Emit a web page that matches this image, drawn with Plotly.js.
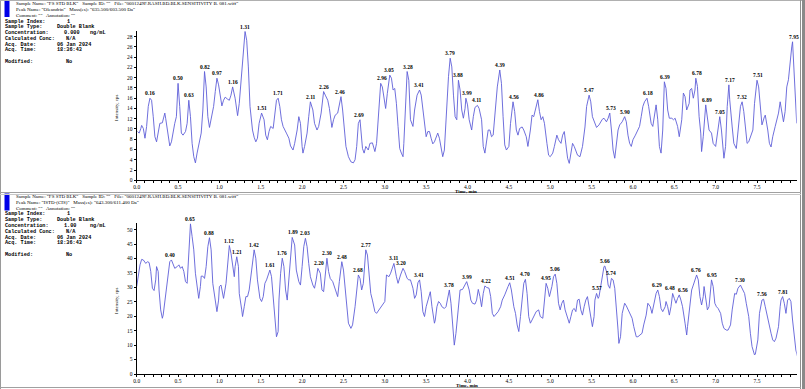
<!DOCTYPE html>
<html><head><meta charset="utf-8">
<script src="https://cdn.plot.ly/plotly-3.0.1.min.js"></script>
<style>html,body{margin:0;padding:0;background:#fff;}#chart{width:805px;height:389px;}</style>
</head><body><div id="chart"></div>
<script>
// ---------- DATA ----------
const topTime = [
0.01,0.03,0.05,0.06,0.08,0.10,0.12,0.14,0.16,0.18,
0.20,0.22,0.24,0.26,0.28,0.31,0.32,0.34,0.35,0.38,
0.40,0.42,0.44,0.46,0.48,0.50,0.52,0.54,0.56,0.59,
0.61,0.63,0.65,0.67,0.69,0.71,0.73,0.76,0.78,0.80,
0.82,0.84,0.86,0.88,0.90,0.93,0.95,0.97,0.99,1.02,
1.03,1.05,1.07,1.10,1.12,1.14,1.16,1.19,1.21,1.22,
1.24,1.26,1.28,1.30,1.31,1.33,1.35,1.37,1.40,1.42,
1.44,1.46,1.48,1.51,1.54,1.56,1.58,1.60,1.62,1.65,
1.67,1.69,1.71,1.73,1.75,1.77,1.81,1.84,1.86,1.89,
1.91,1.94,1.96,1.98,2.00,2.01,2.03,2.06,2.08,2.10,
2.13,2.15,2.18,2.20,2.23,2.26,2.28,2.31,2.33,2.35,
2.36,2.38,2.40,2.43,2.45,2.47,2.49,2.51,2.53,2.56,
2.59,2.62,2.64,2.66,2.68,2.70,2.71,2.73,2.75,2.77,
2.80,2.82,2.85,2.86,2.88,2.90,2.93,2.95,2.97,2.99,
3.01,3.03,3.06,3.08,3.10,3.12,3.14,3.16,3.18,3.20,
3.22,3.23,3.25,3.27,3.29,3.31,3.34,3.36,3.39,3.42,
3.44,3.46,3.48,3.50,3.52,3.54,3.56,3.58,3.60,3.62,
3.64,3.66,3.68,3.70,3.72,3.74,3.77,3.79,3.81,3.83,
3.85,3.87,3.89,3.91,3.93,3.95,3.97,3.98,4.00,4.02,
4.05,4.07,4.09,4.12,4.14,4.17,4.19,4.21,4.23,4.25,
4.27,4.29,4.31,4.33,4.36,4.39,4.41,4.43,4.45,4.47,
4.50,4.52,4.54,4.55,4.57,4.59,4.61,4.63,4.66,4.68,
4.71,4.73,4.76,4.78,4.80,4.83,4.85,4.87,4.89,4.91,
4.93,4.96,4.98,5.00,5.03,5.05,5.08,5.10,5.13,5.15,
5.17,5.19,5.21,5.23,5.25,5.27,5.29,5.31,5.33,5.36,
5.39,5.42,5.44,5.47,5.49,5.51,5.54,5.56,5.59,5.61,
5.63,5.65,5.68,5.70,5.72,5.74,5.76,5.78,5.80,5.82,
5.84,5.87,5.90,5.92,5.94,5.96,5.98,6.00,6.03,6.05,
6.08,6.10,6.12,6.14,6.17,6.19,6.22,6.24,6.26,6.28,
6.30,6.32,6.34,6.36,6.38,6.40,6.42,6.44,6.47,6.49,
6.51,6.54,6.56,6.59,6.61,6.63,6.65,6.68,6.69,6.71,
6.73,6.75,6.76,6.78,6.80,6.82,6.83,6.85,6.88,6.90,
6.92,6.95,6.97,7.00,7.02,7.05,7.07,7.09,7.10,7.12,
7.14,7.16,7.17,7.20,7.22,7.25,7.27,7.30,7.32,7.34,
7.36,7.38,7.40,7.42,7.45,7.47,7.50,7.52,7.54,7.56,
7.59,7.60,7.63,7.65,7.67,7.69,7.72,7.74,7.76,7.78,
7.80,7.82,7.84,7.86,7.88,7.90,7.92,7.93,7.95,7.97,
7.98];
const topIntensity = [
9.5,9.2,10.1,10.7,10.1,8.2,10.5,14.4,16.0,15.6,
12.4,8.5,7.5,9.8,11.1,11.2,11.8,13.1,12.1,8.5,
6.7,7.5,9.8,11.1,12.4,18.9,14.4,9.2,8.8,9.5,
11.1,15.6,12.4,7.2,4.6,3.4,5.3,7.5,9.2,13.7,
21.2,18.2,12.4,10.3,11.8,14.4,17.3,19.9,18.6,16.0,
14.5,15.6,16.2,15.8,15.6,16.6,18.2,16.0,13.1,12.6,
15.0,19.5,24.1,27.3,29.0,27.3,22.1,14.4,9.8,8.4,
7.5,8.2,11.1,13.1,11.8,8.8,7.9,9.5,10.5,10.1,
13.1,15.6,16.0,14.4,11.8,10.5,9.2,8.2,6.7,5.9,
7.2,9.8,12.4,11.1,6.6,5.3,6.6,9.2,12.4,15.3,
13.7,11.1,9.8,10.5,13.1,17.3,16.6,15.6,14.0,11.4,
10.3,11.8,12.7,13.1,14.7,16.3,13.7,9.2,6.6,4.6,
3.6,3.4,4.0,6.6,11.1,11.8,9.2,6.2,5.3,6.6,
5.9,7.2,7.3,6.6,5.6,7.2,13.7,18.9,18.2,15.6,
14.0,16.9,20.5,19.9,17.6,17.9,15.0,10.5,6.2,5.3,
4.6,7.2,15.0,21.2,19.5,11.8,10.5,13.7,16.6,17.6,
16.6,13.7,10.5,8.5,9.5,9.5,8.2,7.1,7.5,8.5,
9.2,8.2,5.9,4.6,5.9,11.8,20.2,23.8,22.1,16.6,
12.4,11.8,19.5,17.6,13.7,12.1,14.0,16.0,14.7,11.8,
9.8,12.4,14.2,14.6,14.0,11.8,6.6,5.3,7.2,9.8,
9.8,8.5,8.8,12.4,18.2,21.5,18.9,12.4,6.9,5.9,
6.6,11.1,14.4,15.3,13.4,9.8,8.8,10.1,10.4,9.8,
8.5,6.6,9.8,12.7,12.4,14.4,15.7,13.4,11.8,12.4,
11.1,7.2,4.9,4.6,5.3,6.6,8.8,7.9,7.2,8.8,
9.5,6.9,4.3,3.3,5.6,7.2,6.6,5.6,4.9,4.6,
6.6,10.4,14.4,16.6,15.3,12.4,11.1,10.3,10.8,11.4,
11.9,12.1,11.4,12.1,13.1,9.8,5.9,4.3,6.6,9.8,
10.8,11.4,12.4,11.4,8.8,7.2,6.6,7.9,8.8,9.5,
10.5,12.4,14.4,15.3,16.0,14.4,11.1,10.5,13.1,14.7,
11.8,6.6,5.3,9.8,19.2,17.9,13.7,12.1,12.1,11.8,
12.1,10.5,8.5,11.8,17.0,16.3,13.7,15.0,17.6,17.9,
16.0,17.6,19.9,18.3,12.4,9.2,5.6,8.5,14.7,12.4,
9.8,9.2,7.2,6.6,9.2,12.4,9.8,5.3,4.3,6.6,
14.4,18.6,15.7,10.4,7.2,6.2,9.2,14.4,15.3,13.4,
10.4,7.2,7.5,8.5,9.8,15.0,19.5,18.2,14.4,10.8,
12.4,12.7,9.8,7.2,6.5,8.5,10.5,11.8,13.1,15.3,
13.7,11.4,13.4,18.2,19.6,23.5,26.0,27.0,21.5,13.7,
11.1];
const topPeakLabels = ["0.16","0.50","0.63","0.82","0.97","1.16","1.31","1.51","1.71","2.11","2.26","2.46","2.69","2.96","3.05","3.28","3.41","3.79","3.88","3.99","4.11","4.39","4.56","4.86","5.47","5.73","5.90","6.18","6.39","6.78","6.89","7.05","7.17","7.32","7.51","7.95"];

const botTime = [
0.00,0.02,0.04,0.06,0.08,0.11,0.13,0.15,0.17,0.19,
0.21,0.23,0.24,0.26,0.27,0.29,0.31,0.32,0.34,0.36,
0.38,0.40,0.42,0.44,0.46,0.49,0.51,0.53,0.55,0.57,
0.59,0.61,0.63,0.64,0.65,0.67,0.69,0.71,0.74,0.75,
0.77,0.78,0.80,0.82,0.84,0.86,0.88,0.90,0.92,0.95,
0.97,0.99,1.00,1.02,1.04,1.05,1.08,1.10,1.12,1.14,
1.16,1.18,1.19,1.21,1.23,1.24,1.27,1.28,1.30,1.32,
1.34,1.36,1.39,1.41,1.42,1.44,1.46,1.49,1.51,1.53,
1.55,1.57,1.59,1.61,1.63,1.65,1.67,1.69,1.71,1.72,
1.74,1.76,1.78,1.80,1.82,1.84,1.86,1.88,1.91,1.93,
1.96,1.98,2.00,2.02,2.04,2.06,2.08,2.10,2.13,2.15,
2.17,2.19,2.22,2.24,2.26,2.28,2.30,2.32,2.34,2.37,
2.40,2.43,2.45,2.48,2.50,2.52,2.54,2.56,2.59,2.61,
2.64,2.66,2.68,2.70,2.72,2.74,2.76,2.77,2.79,2.81,
2.83,2.85,2.88,2.90,2.93,2.95,2.97,3.00,3.02,3.05,
3.07,3.10,3.11,3.14,3.16,3.19,3.22,3.24,3.27,3.29,
3.31,3.34,3.36,3.38,3.40,3.42,3.44,3.46,3.48,3.50,
3.53,3.55,3.57,3.60,3.61,3.63,3.65,3.67,3.69,3.72,
3.74,3.77,3.78,3.80,3.82,3.84,3.86,3.89,3.91,3.94,
3.96,3.99,4.02,4.04,4.06,4.09,4.11,4.13,4.15,4.17,
4.19,4.21,4.23,4.26,4.28,4.30,4.32,4.35,4.37,4.40,
4.42,4.45,4.47,4.49,4.51,4.53,4.56,4.58,4.60,4.62,
4.64,4.66,4.68,4.70,4.72,4.74,4.76,4.78,4.81,4.83,
4.86,4.88,4.91,4.93,4.95,4.97,4.99,5.02,5.04,5.06,
5.08,5.10,5.12,5.14,5.16,5.18,5.20,5.23,5.25,5.27,
5.29,5.31,5.33,5.35,5.37,5.39,5.41,5.43,5.45,5.47,
5.49,5.51,5.53,5.54,5.56,5.58,5.59,5.61,5.63,5.65,
5.66,5.68,5.70,5.72,5.74,5.76,5.78,5.80,5.82,5.83,
5.85,5.87,5.90,5.92,5.94,5.96,5.99,6.01,6.04,6.06,
6.09,6.11,6.13,6.16,6.18,6.21,6.23,6.26,6.28,6.30,
6.32,6.34,6.36,6.39,6.40,6.42,6.44,6.46,6.48,6.50,
6.52,6.54,6.56,6.58,6.60,6.63,6.65,6.66,6.69,6.71,
6.73,6.75,6.77,6.79,6.81,6.83,6.85,6.86,6.88,6.90,
6.92,6.94,6.95,6.97,6.99,7.01,7.03,7.06,7.08,7.10,
7.13,7.15,7.18,7.20,7.23,7.25,7.27,7.30,7.32,7.35,
7.37,7.40,7.42,7.44,7.47,7.48,7.51,7.53,7.56,7.58,
7.60,7.62,7.65,7.67,7.69,7.71,7.73,7.76,7.78,7.79,
7.81,7.83,7.85,7.87,7.89,7.91,7.93,7.95,7.97,7.99];
const botIntensity = [
30.3,34.3,37.8,39.7,39.5,38.3,38.9,38.6,35.5,29.7,
28.9,32.6,37.2,35.5,29.1,22.2,19.3,20.4,25.6,29.7,
36.0,38.9,39.5,38.3,36.6,37.2,37.8,36.6,37.2,35.5,
32.0,31.4,40.6,48.7,52.0,47.6,43.0,34.9,26.8,26.2,
30.3,33.9,33.9,33.1,37.2,44.1,47.2,43.0,31.4,24.5,
21.6,25.6,30.3,30.8,27.4,26.2,31.4,38.3,44.5,41.8,
37.2,33.7,37.2,40.6,37.2,27.9,22.2,19.9,23.3,26.8,
26.8,29.1,36.0,41.8,43.0,40.1,32.6,26.2,25.1,26.8,
31.4,32.6,34.3,36.0,33.7,26.8,17.6,12.9,14.7,25.6,
34.9,40.1,37.2,29.1,25.6,32.6,41.8,47.3,44.7,36.0,
32.0,30.8,37.2,44.1,47.0,44.1,38.3,33.7,30.8,29.7,
32.6,36.6,34.9,29.1,28.5,33.7,40.1,35.5,33.1,32.0,
29.7,26.8,32.0,38.9,36.0,29.1,22.2,17.6,15.8,17.0,
23.3,30.3,34.3,33.1,29.1,31.4,38.3,43.0,41.2,33.1,
27.9,25.6,21.6,21.0,22.2,22.7,23.6,25.1,34.3,33.7,
34.9,37.2,38.3,33.7,31.4,34.3,36.6,35.5,33.1,32.6,
32.6,29.7,26.2,27.4,31.6,32.6,28.5,21.6,19.9,23.3,
26.2,28.5,23.3,17.6,18.7,23.3,25.1,24.5,23.3,22.7,
23.3,28.5,29.1,24.5,15.2,10.0,14.1,22.2,29.1,29.3,
30.5,32.0,29.1,25.6,24.5,24.2,25.6,29.3,26.8,23.3,
27.9,30.5,30.0,29.7,26.8,21.0,19.9,21.0,21.6,23.3,
25.6,27.4,29.1,30.3,31.6,29.1,23.3,21.0,17.0,14.7,
19.9,26.8,31.4,32.8,27.9,19.9,17.6,18.7,20.4,21.6,
22.2,19.9,19.3,25.6,31.4,29.7,26.8,30.3,33.7,34.6,
31.4,24.5,22.2,24.5,25.6,22.2,20.4,17.6,19.9,22.2,
22.7,21.6,25.6,25.9,22.2,20.4,23.3,25.6,26.8,23.3,
18.7,16.4,19.9,25.6,27.9,26.2,26.8,30.3,33.7,37.2,
37.4,35.5,30.8,29.7,33.1,32.6,29.7,23.3,15.2,10.6,
12.9,21.0,24.5,23.6,22.2,21.0,19.3,16.4,12.9,12.9,
13.5,14.1,17.0,20.4,24.5,23.3,21.0,24.5,27.9,29.1,
26.8,22.7,21.6,23.3,25.1,23.3,20.4,23.3,27.9,26.2,
24.5,26.2,27.4,25.6,23.3,17.6,13.5,16.4,23.3,29.1,
30.8,32.6,34.3,32.6,26.8,23.9,26.8,30.3,26.8,22.2,
23.3,29.1,32.6,30.3,24.5,23.3,22.7,21.0,17.6,15.8,
15.2,15.2,17.0,22.2,27.9,27.6,29.7,30.8,29.7,27.9,
24.5,19.9,14.1,9.5,6.6,6.9,11.8,21.0,25.6,25.9,
23.3,20.4,17.0,14.1,11.8,11.2,12.4,16.4,23.3,25.6,
26.8,24.5,21.0,25.6,26.2,25.1,18.7,12.9,8.3,6.0];
const botPeakLabels = ["0.40","0.65","0.88","1.12","1.21","1.42","1.61","1.76","1.89","2.03","2.20","2.30","2.48","2.68","2.77","3.11","3.20","3.41","3.78","3.99","4.22","4.51","4.70","4.95","5.06","5.57","5.66","5.74","6.29","6.48","6.56","6.76","6.95","7.30","7.56","7.81"];

const topHeader = [
  'Sample Name: "FS STD BLK"   Sample ID: ""   File: "0601249F.RASH.BD.BLK.SENSITIVITY B. 081.wiff"',
  'Peak Name: "Oleandrin"   Mass(es): "635.500/603.500 Da"',
  'Comment: ""   Annotation: ""'];
const botHeader = [
  'Sample Name: "FS STD BLK"   Sample ID: ""   File: "0601249F.RASH.BD.BLK.SENSITIVITY B. 081.wiff"',
  'Peak Name: "ISTD-(CIS)"   Mass(es): "643.300/611.400 Da"',
  'Comment: ""   Annotation: ""'];
const infoKeys = ['Sample Index:', 'Sample Type:', 'Concentration:', 'Calculated Conc:', 'Acq. Date:', 'Acq. Time:', 'Modified:'];
const topInfoVals = ['1', 'Double Blank', '0.000', 'N/A', '06 Jan 2024', '18:36:43', 'No'];
const botInfoVals = ['1', 'Double Blank', '1.00', 'N/A', '06 Jan 2024', '18:36:43', 'No'];
const concUnit = 'ng/mL';

// ---------- LAYOUT ----------
const W = 805, H = 389;
const PX = x => x / W, PY = y => 1 - y / H;
const lineColor = '#5f5fd8';
const serif = 'Liberation Serif, Times New Roman, serif';
const mono = 'Liberation Mono, DejaVu Sans Mono, monospace';
const labelShift = {'6.48': -3, '6.56': 4};  // label nudges (style only)

function peakAnn(labels, T, V, xa, ya) {
  return labels.map(l => {
    const t = parseFloat(l);
    let best = -Infinity;
    for (let i = 0; i < T.length; i++) if (Math.abs(T[i] - t) <= 0.03 && V[i] > best) best = V[i];
    return {xref: xa, yref: ya, x: t, y: best, yanchor: 'bottom', yshift: 0, xshift: (xa === 'x2' && labelShift[l]) || 0,
      showarrow: false, text: '<b>' + l + '</b>', font: {family: serif, size: 5.5, color: '#000'}};
  });
}
function txt(x, y, s, font, extra) {
  return Object.assign({xref: 'paper', yref: 'paper', x: PX(x), y: PY(y), xanchor: 'left', yanchor: 'middle',
    showarrow: false, text: s, font: font, borderpad: 0}, extra || {});
}
function header(off, hdr, vals) {
  const f1 = {family: serif, size: 5, color: '#000'};
  const f2 = {family: mono, size: 5.2, color: '#000'};
  const a = [
    txt(15, off + 3.5, hdr[0], f1),
    txt(15, off + 9.5, hdr[1], f1),
    txt(15, off + 15.5, hdr[2], f1)
  ];
  const ys = [21.5, 27.3, 33, 38.8, 44.6, 50.4, 62];
  const vx = [66, 56, 63, 65, 56, 56, 65];
  infoKeys.forEach((k, i) => {
    a.push(txt(4, off + ys[i], '<b>' + k + '</b>', f2));
    a.push(txt(vx[i], off + ys[i], '<b>' + vals[i] + '</b>', f2));
  });
  a.push(txt(89, off + 33, '<b>' + concUnit + '</b>', f2));
  return a;
}

const xDom = [136.7 / W, 796.7 / W];
const axisX = (anchor) => ({
  domain: xDom, range: [0, 7.98], anchor: anchor, showgrid: false, zeroline: false,
  showline: true, linecolor: '#000', linewidth: 1, ticks: 'outside', ticklen: 2, tickwidth: 1, tickcolor: '#000',
  tickmode: 'linear', tick0: 0, dtick: 0.5, tickformat: '.1f', ticklabelstandoff: -1,
  minor: {dtick: 0.1, ticks: 'outside', ticklen: 2, tickcolor: '#000', tickwidth: 1},
  tickfont: {family: serif, size: 5.5, color: '#000'}
});
const axisY = (anchor, dom, rng, dt) => ({
  domain: dom, range: rng, anchor: anchor, showgrid: false, zeroline: false,
  showline: true, linecolor: '#000', linewidth: 1, ticks: 'outside', ticklen: 2, tickwidth: 1, tickcolor: '#000',
  tickmode: 'linear', tick0: 0, dtick: dt, tickfont: {family: serif, size: 5.5, color: '#000'}
});

const traces = [
  {x: topTime, y: topIntensity, xaxis: 'x', yaxis: 'y', type: 'scatter', mode: 'lines',
    line: {color: lineColor, width: 0.9}, hoverinfo: 'skip'},
  {x: botTime, y: botIntensity, xaxis: 'x2', yaxis: 'y2', type: 'scatter', mode: 'lines',
    line: {color: lineColor, width: 0.9}, hoverinfo: 'skip'}
];

const fAx = {family: serif, size: 5, color: '#000'};
let anns = [];
anns = anns.concat(peakAnn(topPeakLabels, topTime, topIntensity, 'x', 'y'));
anns = anns.concat(peakAnn(botPeakLabels, botTime, botIntensity, 'x2', 'y2'));
anns = anns.concat(header(0, topHeader, topInfoVals));
anns = anns.concat(header(193, botHeader, botInfoVals));
anns.push(txt(117, 108, 'Intensity, cps', fAx, {textangle: -90, xanchor: 'center', yanchor: 'middle'}));
anns.push(txt(117, 301, 'Intensity, cps', fAx, {textangle: -90, xanchor: 'center', yanchor: 'middle'}));
anns.push(txt(466, 191.2, '<b>Time, min</b>', fAx, {xanchor: 'center'}));
anns.push(txt(467, 385.2, '<b>Time, min</b>', fAx, {xanchor: 'center'}));

const shp = (x0, y0, x1, y1, fill, lc, lw) => ({type: 'rect', xref: 'paper', yref: 'paper',
  x0: PX(x0), x1: PX(x1), y0: PY(y0), y1: PY(y1), fillcolor: fill, line: {color: lc || fill, width: lw || 0}, layer: 'below'});
const ln = (x0, y0, x1, y1, c, w) => ({type: 'line', xref: 'paper', yref: 'paper',
  x0: PX(x0), x1: PX(x1), y0: PY(y0), y1: PY(y1), line: {color: c, width: w}, layer: 'below'});

const shapes = [
  shp(4.5, 0, 9.5, 17, '#0000e8'),
  shp(4.5, 193.5, 9.5, 210.5, '#0000e8'),
  ln(0.5, 0, 0.5, 389, '#9a9a9a', 1),
  ln(0, 0.5, 805, 0.5, '#b0b0b0', 1),
  ln(800.5, 0, 800.5, 389, '#8f8f8f', 1),
  shp(802, 0, 805, 389, '#8a8a8a'),
  ln(0, 192.5, 801, 192.5, '#a0a0a0', 1),
  ln(0, 194.5, 801, 194.5, '#c8c8c8', 1),
  ln(0, 387.5, 801, 387.5, '#a0a0a0', 1)
];

const layout = {
  width: W, height: H, margin: {l: 0, r: 0, t: 0, b: 0}, paper_bgcolor: '#fff', plot_bgcolor: '#fff',
  showlegend: false, dragmode: false,
  xaxis: axisX('y'), yaxis: axisY('x', [PY(180.3), PY(31)], [0, 29.1], 2),
  xaxis2: axisX('y2'), yaxis2: axisY('x2', [PY(374), PY(223)], [0, 52.3], 5),
  annotations: anns, shapes: shapes
};
Plotly.newPlot('chart', traces, layout, {staticPlot: true, displayModeBar: false});
</script></body></html>
